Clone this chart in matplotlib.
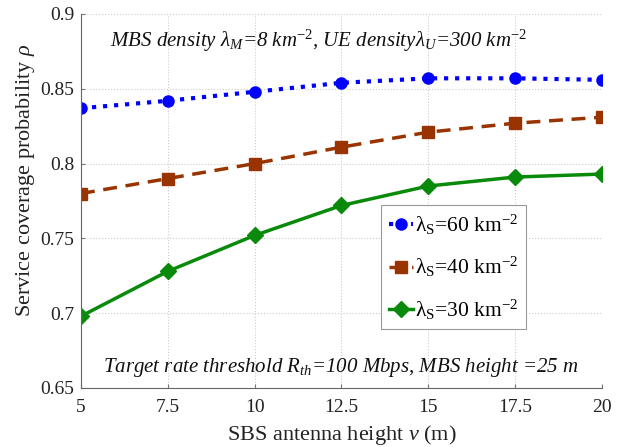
import matplotlib
matplotlib.use("Agg")
import matplotlib.pyplot as plt

heights = [5, 7.5, 10, 12.5, 15, 17.5, 20]
rho_60 = [0.837, 0.842, 0.848, 0.854, 0.857, 0.857, 0.856]
rho_40 = [0.780, 0.790, 0.800, 0.811, 0.821, 0.827, 0.831]
rho_30 = [0.698, 0.728, 0.752, 0.772, 0.785, 0.791, 0.793]
labels = [r"$\mathrm{\lambda_S}$=60 km$^{-2}$", r"$\mathrm{\lambda_S}$=40 km$^{-2}$", r"$\mathrm{\lambda_S}$=30 km$^{-2}$"]
xticks = [5, 7.5, 10, 12.5, 15, 17.5, 20]
xticklabels = ['5', '7.5', '10', '12.5', '15', '17.5', '20']
yticks = [0.65, 0.7, 0.75, 0.8, 0.85, 0.9]
yticklabels = ['0.65', '0.7', '0.75', '0.8', '0.85', '0.9']

plt.rcParams['font.family'] = ['Liberation Serif', 'DejaVu Serif']
plt.rcParams['mathtext.fontset'] = 'custom'
plt.rcParams['mathtext.rm'] = 'Liberation Serif'
plt.rcParams['mathtext.it'] = 'Liberation Serif:italic'
plt.rcParams['mathtext.bf'] = 'Liberation Serif:bold'

fig = plt.figure(figsize=(6.29, 4.47), dpi=100)
ax = fig.add_axes([0.1288, 0.132, 0.828, 0.8367])

ax.plot(heights, rho_60, color='#0000ff', linestyle=':', linewidth=3, marker='o', markersize=8, label=labels[0])
ax.plot(heights, rho_40, color='#993300', linestyle='--', linewidth=2.5, dashes=(4, 2.5), marker='s', markersize=8, label=labels[1])
ax.plot(heights, rho_30, color='#0a8a0a', linestyle='-', linewidth=2.5, marker='D', markersize=8, label=labels[2])

ax.set_xlim(5, 20)
ax.set_ylim(0.65, 0.9)
ax.set_xticks(xticks)
ax.set_xticklabels(xticklabels)
ax.set_yticks(yticks)
ax.set_yticklabels(yticklabels)
ax.tick_params(labelsize=14, direction='in', length=3, color='#777777', labelcolor='#222222')
ax.tick_params(axis='x', pad=8)
ax.tick_params(axis='y', pad=5)
ax.grid(True, linestyle=':', color='#cccccc', linewidth=0.8)
for s in ['top', 'right']:
    ax.spines[s].set_visible(False)
for s in ['left', 'bottom']:
    ax.spines[s].set_color('#666666')

ax.set_xlabel(r"SBS antenna height $v$ (m)", fontsize=16, labelpad=5, color='#222222')
ax.set_ylabel(r"Service coverage probability $\rho$", fontsize=16, color='#222222')
ax.yaxis.label.set_va('center')
ax.yaxis.set_label_coords(-0.107, 0.556)

ax.text(0.056, 0.912, r"MBS density $\lambda_M$=8 km$^{-2}$, UE density$\lambda_U$=300 km$^{-2}$",
        transform=ax.transAxes, ha='left', va='baseline', fontsize=15, style='italic', color='#111111')
ax.text(0.042, 0.043, r"Target rate threshold $R_{th}$=100 Mbps, MBS height =25 m",
        transform=ax.transAxes, ha='left', va='baseline', fontsize=15, style='italic', color='#111111')

leg = ax.legend(loc='upper left', bbox_to_anchor=(0.576, 0.489), fontsize=15.5, frameon=True,
                fancybox=False, edgecolor='#999999', handlelength=1.15, handletextpad=0.1,
                borderpad=0.35, labelspacing=0.85, borderaxespad=0, framealpha=1)
leg.get_frame().set_linewidth(0.8)

fig.savefig('out.png', dpi=100)
